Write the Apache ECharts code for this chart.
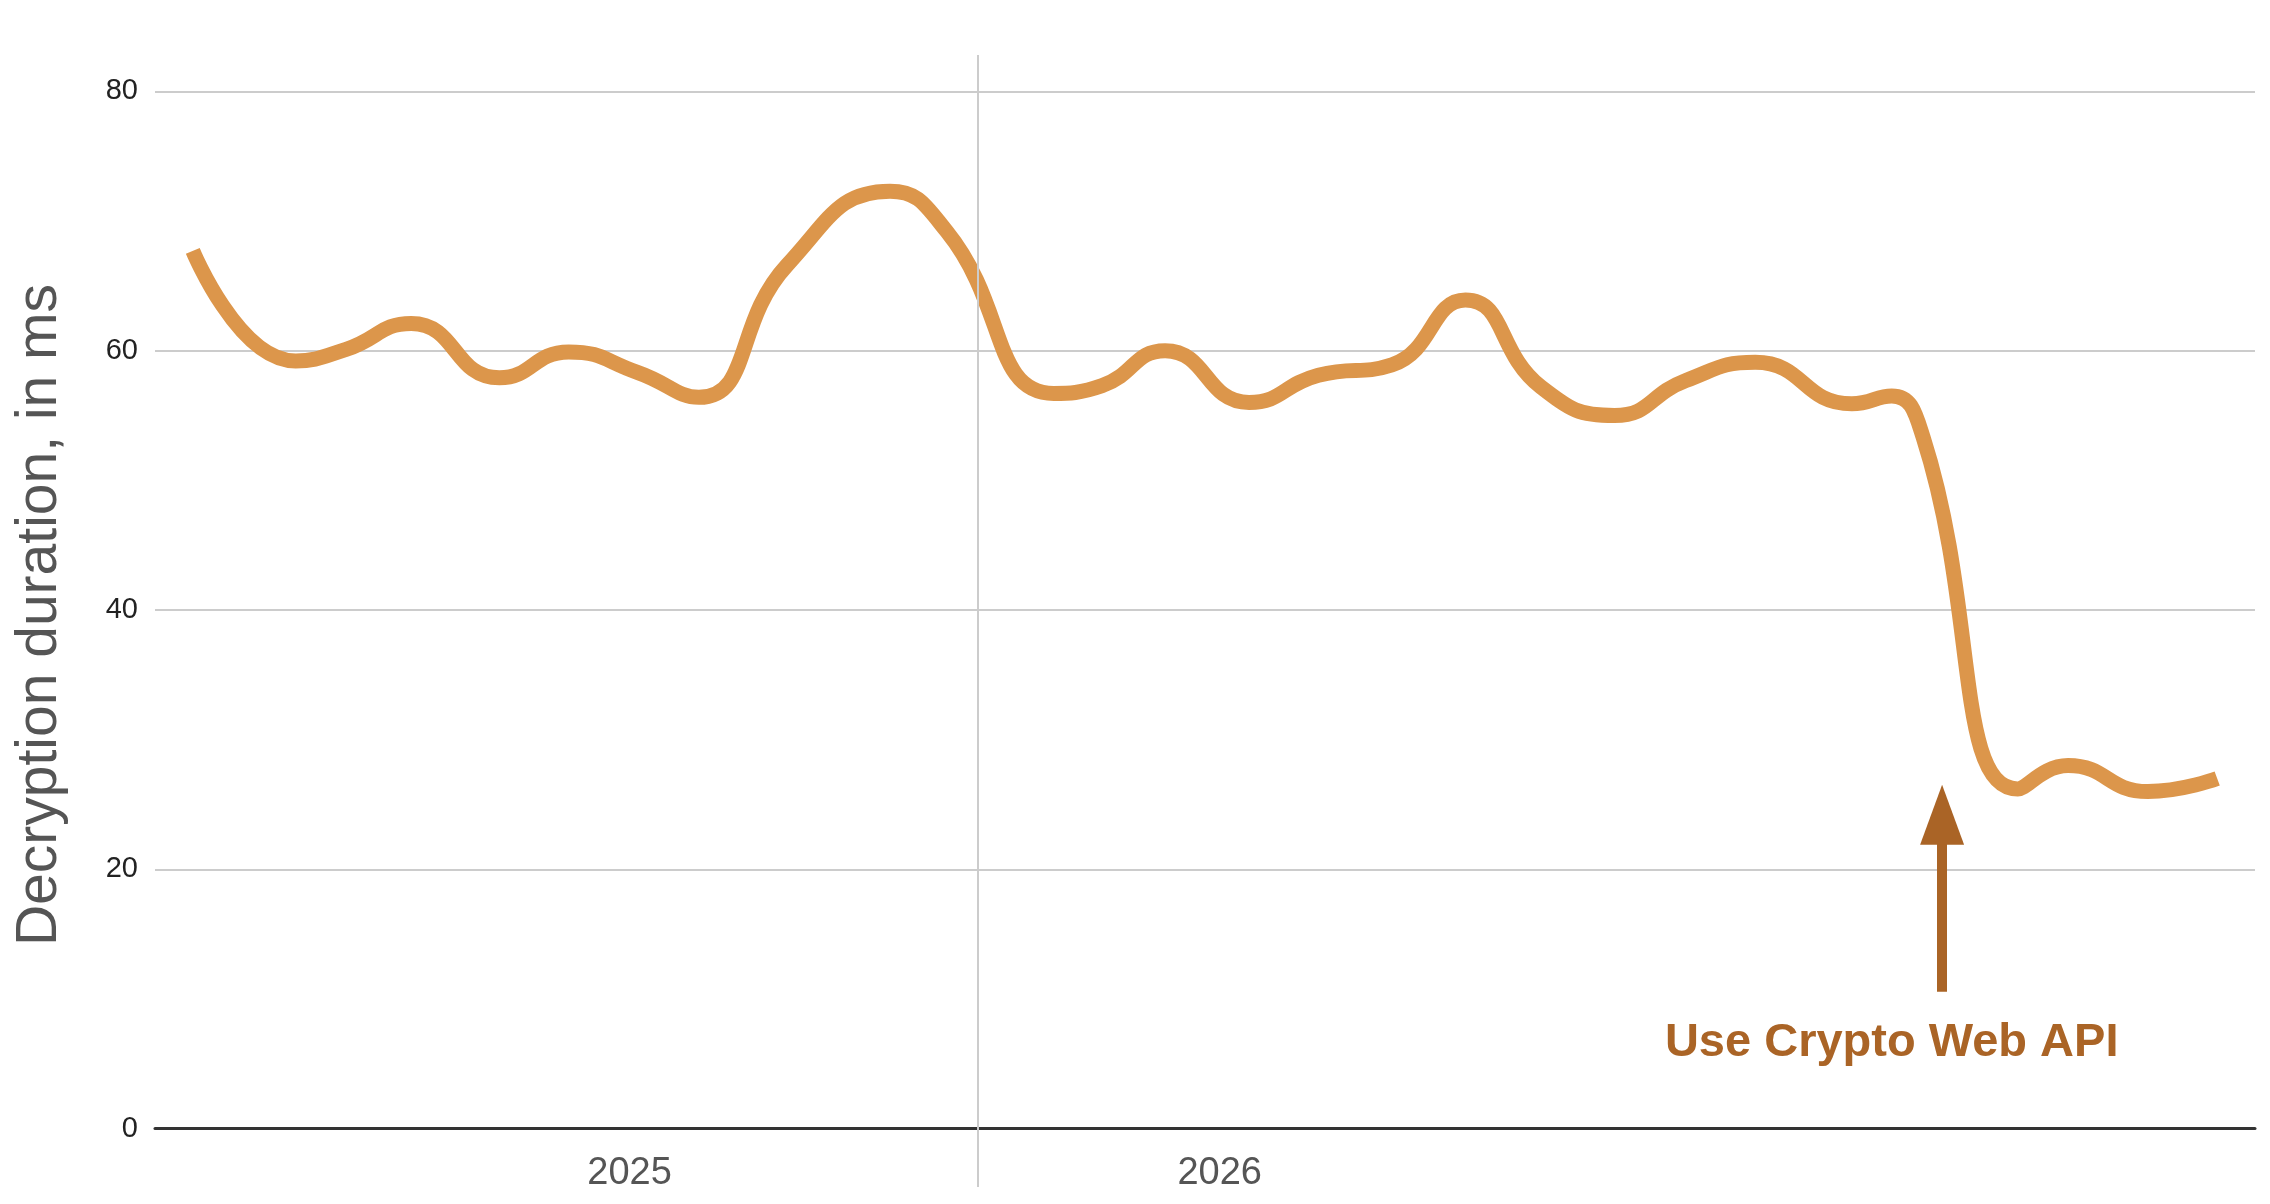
<!DOCTYPE html>
<html>
<head>
    <meta charset="utf-8" />
    <title>Decryption duration</title>
    <script src="https://cdn.jsdelivr.net/npm/echarts@6/dist/echarts.min.js"></script>
    <style>
        html, body { margin: 0; padding: 0; background: #fff; }
    </style>
</head>
<body>
<div id="main" style="width: 2270px;height:1204px;"></div>
<script type="text/javascript">
    // position along the time axis (0 = left edge of plot, 100 = right edge)
    var xs = [1.8, 6.7, 9.1, 12.2, 16.4, 19.7, 23.0, 25.9, 30.1, 35.0, 37.7, 42.8, 45.1, 48.1,
        52.1, 55.4, 58.9, 62.4, 66.0, 69.5, 72.9, 76.2, 80.8, 82.7, 84.2, 88.7, 91.1, 94.9, 98.2];
    // decryption duration in ms
    var durations = [67.7, 59.2, 60.1, 62.1, 57.9, 59.9, 58.3, 56.4, 66.6, 72.3, 69.2, 56.7, 57.3, 60.0,
        56.0, 58.1, 58.9, 63.9, 57.2, 55.0, 57.7, 59.1, 55.9, 56.5, 53.3, 26.2, 28.0, 26.0, 27.0];

    var yearLabels = ['2025', '2026'];
    var yearLabelPos = [22.6, 50.7];
    var yearBoundary = 39.2;     // 1 Jan 2026
    var yTicks = [0, 20, 40, 60, 80];

    // annotation
    var noteText = 'Use Crypto Web API';
    var arrowX = 85.1;
    var arrowFrom = 10.55;
    var arrowTo = 24.2;
    var noteX = 82.7;
    var noteY = 6.6;

    var lineColor = '#dc964b';
    var noteColor = '#aa6426';

    var points = xs.map(function (x, i) { return [x, durations[i]]; });

    var myChart = echarts.init(document.getElementById('main'));
    var option = {
        animation: false,
        backgroundColor: '#fff',
        textStyle: { fontFamily: 'Liberation Sans, Arial, sans-serif' },
        grid: { left: 155, right: 15, top: 55, bottom: 17, containLabel: false, outerBoundsMode: 'none' },
        xAxis: {
            type: 'value',
            min: 0,
            max: 100,
            axisLine: { onZero: true, lineStyle: { color: '#333', width: 3 } },
            axisTick: { show: false },
            splitLine: { show: false },
            axisLabel: {
                customValues: yearLabelPos,
                formatter: function (v) {
                    var k = yearLabelPos.indexOf(v);
                    return k >= 0 ? yearLabels[k] : '';
                },
                color: '#555',
                fontSize: 38,
                margin: -32
            }
        },
        yAxis: {
            type: 'value',
            min: -4.5,
            max: 82.8,
            name: 'Decryption duration, in ms',
            nameLocation: 'middle',
            nameRotate: 90,
            nameGap: 86,
            nameTextStyle: { color: '#555', fontSize: 57, padding: [0, 0, 0, 12] },
            axisLine: { show: false },
            axisTick: { show: false, customValues: yTicks },
            axisLabel: { customValues: yTicks, color: '#222', fontSize: 29, margin: 17 },
            splitLine: { show: true, lineStyle: { color: '#ccc', width: 2 } }
        },
        series: [
            {
                type: 'line',
                data: points,
                smooth: 0.5,
                showSymbol: false,
                lineStyle: { color: lineColor, width: 15, cap: 'butt' },
                itemStyle: { color: lineColor },
                markLine: {
                    silent: true,
                    symbol: 'none',
                    label: { show: false },
                    data: [
                        { xAxis: yearBoundary, lineStyle: { color: '#ccc', width: 2, type: 'solid' } },
                        [
                            { coord: [arrowX, arrowFrom], symbol: 'none' },
                            { coord: [arrowX, arrowTo], symbol: 'triangle', symbolSize: [44, 60] }
                        ]
                    ],
                    lineStyle: { color: noteColor, width: 10, type: 'solid' }
                },
                markPoint: {
                    silent: true,
                    symbol: 'circle',
                    symbolSize: 1,
                    itemStyle: { color: 'rgba(0,0,0,0)' },
                    label: {
                        show: true,
                        position: 'inside',
                        formatter: noteText,
                        color: noteColor,
                        fontSize: 47,
                        fontWeight: 'bold'
                    },
                    data: [{ coord: [noteX, noteY] }]
                }
            }
        ]
    };
    myChart.setOption(option);
</script>
</body>
</html>
